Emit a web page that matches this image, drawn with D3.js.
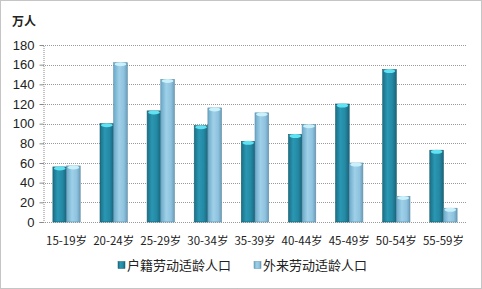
<!DOCTYPE html>
<html>
<head>
<meta charset="utf-8">
<script src="https://cdn.jsdelivr.net/npm/d3@7"></script>
<style>
  body { margin: 0; background: #fff; }
  svg { display: block; }
</style>
</head>
<body>
<div id="chart"></div>
<script>

// data
const ageGroups = ["15-19岁", "20-24岁", "25-29岁", "30-34岁", "35-39岁", "40-44岁", "45-49岁", "50-54岁", "55-59岁"];
const localValues = [56, 100, 113, 98, 82, 89, 120, 155, 73];
const migrantValues = [57, 162, 145, 116, 111, 99, 60, 26, 14];
const seriesNames = ["户籍劳动适龄人口", "外来劳动适龄人口"];
const yTicks = [0, 20, 40, 60, 80, 100, 120, 140, 160, 180];

const W = 482, H = 289;
const plot = { left: 43, right: 467, top: 45, bottom: 222 };

const svg = d3.select("#chart").append("svg")
    .attr("width", W)
    .attr("height", H);

// gradients for the bars
const defs = svg.append("defs");
function hGrad(id, stops) {
    const g = defs.append("linearGradient").attr("id", id)
        .attr("x1", "0%").attr("x2", "100%").attr("y1", "0%").attr("y2", "0%");
    stops.forEach(s => g.append("stop").attr("offset", s[0]).attr("stop-color", s[1]));
}
hGrad("darkBar", [["0%", "#1c6f86"], ["35%", "#2a97b3"], ["70%", "#2489a4"], ["100%", "#1a6479"]]);
hGrad("lightBar", [["0%", "#6aa9c8"], ["40%", "#9fd0e8"], ["75%", "#8ec2de"], ["100%", "#6b9cb8"]]);

// outer dotted frame
svg.append("rect")
    .attr("x", 0.5).attr("y", 0.5)
    .attr("width", W - 1).attr("height", H - 1)
    .attr("fill", "none")
    .attr("stroke", "#8a8a8a")
    .attr("stroke-dasharray", "1,1");

const x0 = d3.scaleBand()
    .domain(ageGroups)
    .range([plot.left, plot.right])
    .paddingInner(0.42)
    .paddingOuter(0.21);

const x1 = d3.scaleBand()
    .domain([0, 1])
    .range([0, x0.bandwidth()]);

const y = d3.scaleLinear()
    .domain([0, 180])
    .range([plot.bottom, plot.top]);

// gridlines
svg.append("g")
    .selectAll("line")
    .data(yTicks)
    .enter().append("line")
    .attr("x1", plot.left)
    .attr("x2", plot.right)
    .attr("y1", d => Math.round(y(d)) + 0.5)
    .attr("y2", d => Math.round(y(d)) + 0.5)
    .attr("stroke", "#9a9a9a")
    .attr("stroke-dasharray", "1,1");

// y axis
const yAxis = svg.append("g")
    .attr("transform", `translate(${plot.left + 0.5},0)`)
    .call(d3.axisLeft(y).tickValues(yTicks).tickSize(4).tickPadding(5));
yAxis.select(".domain").attr("stroke", "#8a8a8a").attr("stroke-dasharray", "1,1");
yAxis.selectAll(".tick line").attr("stroke", "#8a8a8a");
yAxis.selectAll("text")
    .attr("font-family", "'Liberation Sans', Arial, sans-serif")
    .attr("font-size", 13)
    .attr("fill", "#222");

// x labels
svg.append("g")
    .selectAll("text")
    .data(ageGroups)
    .enter().append("text")
    .attr("x", d => x0(d) + x0.bandwidth() / 2)
    .attr("y", 245)
    .attr("text-anchor", "middle")
    .attr("font-family", "'Noto Sans CJK SC', sans-serif")
    .attr("font-size", 11.5)
    .attr("fill", "#222")
    .text(d => d);

// bars
const groups = svg.append("g")
    .selectAll("g")
    .data(ageGroups)
    .enter().append("g")
    .attr("transform", d => `translate(${x0(d)},0)`);

const barData = (d, i) => [
    { s: 0, v: localValues[i] },
    { s: 1, v: migrantValues[i] }
];

groups.selectAll("rect")
    .data(barData)
    .enter().append("rect")
    .attr("x", d => x1(d.s))
    .attr("y", d => y(d.v))
    .attr("width", x1.bandwidth())
    .attr("height", d => y(0) - y(d.v))
    .attr("fill", d => d.s === 0 ? "url(#darkBar)" : "url(#lightBar)")
    .attr("stroke", d => d.s === 0 ? "#1a5f72" : "#5f8fa8")
    .attr("stroke-width", 0.6);

// bar top caps
groups.selectAll("ellipse")
    .data(barData)
    .enter().append("ellipse")
    .attr("cx", d => x1(d.s) + x1.bandwidth() / 2)
    .attr("cy", d => y(d.v) + 1.5)
    .attr("rx", x1.bandwidth() / 2 - 1)
    .attr("ry", 2)
    .attr("fill", d => d.s === 0 ? "#5fe3f2" : "#c9f1fb");

// unit label
svg.append("text")
    .attr("x", 12)
    .attr("y", 26)
    .attr("font-family", "'Noto Sans CJK SC', sans-serif")
    .attr("font-weight", "bold")
    .attr("font-size", 12)
    .attr("fill", "#222")
    .text("万人");

// legend
const legendX = [118, 254];
const legend = svg.append("g")
    .selectAll("g")
    .data(seriesNames)
    .enter().append("g")
    .attr("transform", (d, i) => `translate(${legendX[i]},265)`);

legend.append("rect")
    .attr("x", 0).attr("y", -3.5)
    .attr("width", 7).attr("height", 7)
    .attr("fill", (d, i) => i === 0 ? "url(#darkBar)" : "url(#lightBar)")
    .attr("stroke", (d, i) => i === 0 ? "#1a5f72" : "#5f8fa8")
    .attr("stroke-width", 0.5);

legend.append("text")
    .attr("x", 9)
    .attr("y", 5)
    .attr("font-family", "'Noto Sans CJK SC', sans-serif")
    .attr("font-size", 13)
    .attr("fill", "#222")
    .text(d => d);
</script>
</body>
</html>
